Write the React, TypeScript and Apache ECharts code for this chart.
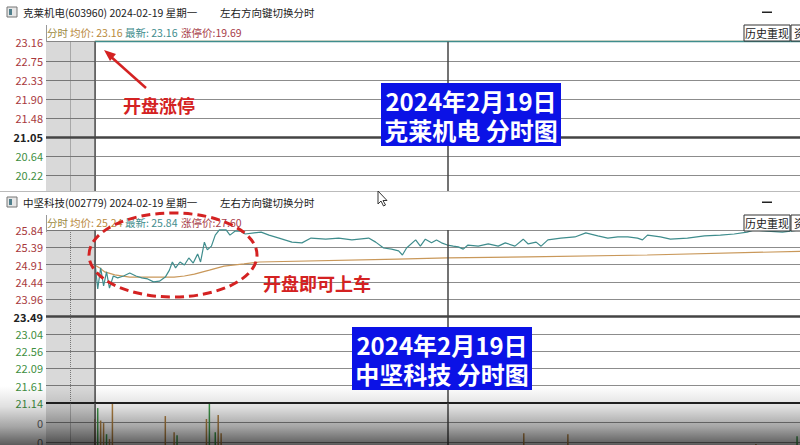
import React, { useEffect, useRef } from "react";
import * as echarts from "echarts";

const FONT = '"Noto Sans CJK SC", "Noto Sans", sans-serif';

// 克莱机电 (603960)
const topPrevClose = 21.05;
const topTickLabels = ["19.80", "20.22", "20.64", "21.05", "21.48", "21.90", "22.33", "22.75", "23.16"];
const topMinutes = [0, 240];
const topPrices = [23.16, 23.16];
const topAvg = [23.16, 23.16];

// 中坚科技 (002779)
const btmPrevClose = 23.49;
const btmTickLabels = ["21.14", "21.61", "22.09", "22.56", "23.04", "23.49", "23.96", "24.44", "24.91", "25.39", "25.84"];
const priceMinutes = [
  0, 1, 2, 3, 4, 5, 6.3, 7.8, 9.8, 11.9,
  14, 16, 18, 20, 22, 24, 25.4, 26.4, 27.5, 29,
  30.5, 32, 33.5, 35, 36, 37.3, 38.3, 39.7, 41, 42.4,
  44.7, 46, 47.8, 49.5, 51.2, 54.2, 56.6, 59.3, 62.7, 67.1,
  70.5, 73.6, 78.6, 83, 87.5, 93.2, 95.6, 98.3, 101, 103.4,
  104.7, 106.1, 109.2, 110.8, 112.5, 114.6, 116.3, 118, 120, 122,
  123.7, 125.4, 127, 130.5, 133.9, 137.3, 139.7, 143, 145.8, 147.5,
  150.2, 151.9, 154.2, 158.6, 163.4, 167.1, 171.2, 174.6, 178, 181.4,
  184.7, 186.4, 188.1, 192.5, 195.9, 201.7, 207.5, 212.9, 217.6, 222,
  224.4, 228.8, 234, 240,
];
const priceValues = [
  25.02, 24.24, 24.81, 24.32, 24.7, 24.26, 24.59, 24.54, 24.59, 24.67,
  24.59, 24.54, 24.51, 24.43, 24.45, 24.56, 24.75, 24.97, 24.81, 24.97,
  24.89, 25.08, 24.94, 25.19, 24.97, 25.51, 25.3, 25.4, 25.7, 25.84,
  25.84, 25.7, 25.81, 25.81, 25.73, 25.76, 25.78, 25.7, 25.62, 25.51,
  25.49, 25.62, 25.59, 25.62, 25.57, 25.62, 25.51, 25.35, 25.32, 25.27,
  25.16, 25.35, 25.57, 25.4, 25.59, 25.49, 25.57, 25.49, 25.43, 25.4,
  25.38, 25.32, 25.43, 25.4, 25.46, 25.4, 25.49, 25.4, 25.59, 25.46,
  25.51, 25.4, 25.57, 25.62, 25.65, 25.76, 25.68, 25.62, 25.65, 25.65,
  25.62, 25.57, 25.7, 25.65, 25.59, 25.62, 25.68, 25.7, 25.73, 25.78,
  25.84, 25.81, 25.78, 25.84,
];
const avgMinutes = [0, 1.7, 3.4, 6.8, 11.9, 27, 30.5, 33.9, 39, 44, 50.8, 56, 103, 120, 147.5, 188, 240];
const avgValues = [24.89, 24.81, 24.7, 24.62, 24.56, 24.56, 24.59, 24.64, 24.75, 24.86, 24.92, 24.97, 25.05, 25.08, 25.11, 25.16, 25.26];

const volMinutes = [0, 1, 2, 3, 4, 5, 6, 9, 12, 24, 27, 28, 38, 39, 41, 42, 43, 146, 161, 225, 239];
const volValues = [2180, 2740, 2100, 1970, 1400, 1150, 3000, 600, 500, 2330, 1500, 1350, 2180, 3000, 1500, 2380, 1450, 1450, 1400, 900, 1300];
const volUp = [1, 0, 1, 1, 0, 1, 1, 1, 0, 1, 1, 0, 1, 0, 0, 1, 1, 1, 1, 1, 0];
const volTickLabels = ["", "0", "0", ""];

const TEAL = "#3f8d8d";
const AVG = "#c9985a";
const UP = "#a8383c";
const DOWN = "#3f8f3f";
const GRID = "#8c8c8c";
const RED = "#d42222";
const BLUE = "#0b12e6";
const VOL_UP = "#b48444";
const VOL_DOWN = "#3f9a4a";

const X_MIN = -16.6;
const X_MAX = 240;

const pct = (p: number, prev: number) => (p / prev - 1) * 100;

const labelColor = (v: any) => {
  const n = Number(v);
  if (n > 0.001) return UP;
  if (n < -0.001) return DOWN;
  return "#222";
};

const sessionMarks = (extra: any[] = []) => ({
  markArea: {
    silent: true,
    itemStyle: { color: "rgba(0,0,0,0.15)" },
    data: [[{ xAxis: X_MIN }, { xAxis: 0 }]],
  },
  markLine: {
    silent: true,
    symbol: ["none", "none"],
    label: { show: false },
    data: [
      { xAxis: -8.5, lineStyle: { color: "#777", width: 1, type: "dotted" } },
      { xAxis: 0, lineStyle: { color: "#555", width: 1.5, type: "solid" } },
      { xAxis: 120, lineStyle: { color: "#444", width: 1.5, type: "solid" } },
      ...extra,
    ],
  },
});

const priceAxis = (gridIndex: number, min: number, labels: string[]) => ({
  gridIndex,
  type: "value",
  min,
  max: 10,
  interval: 2,
  axisLine: { show: true, lineStyle: { color: "#999", width: 1 } },
  axisTick: { show: false },
  splitLine: { show: true, lineStyle: { color: GRID, width: 1.2 } },
  axisLabel: {
    margin: 3,
    fontSize: 11,
    fontFamily: FONT,
    formatter: (v: number) => {
      const s = labels[Math.round((v - min) / 2)] ?? "";
      // previous close is drawn bold
      return Math.abs(v) < 0.001 ? `{b|${s}}` : s;
    },
    color: labelColor,
    rich: { b: { fontWeight: "bold", color: "#222", fontSize: 11, fontFamily: FONT } },
  },
});

const panelHeader = (top: number, title: string, avg: string, last: string, limit: string) => {
  const txt = (text: string, x: number, y: number, fill: string, size = 10.5, align = "left") => ({
    type: "text",
    z: 100,
    style: { text, x, y, fill, font: `${size}px ${FONT}`, textAlign: align, textVerticalAlign: "middle" },
  });
  return [
    { type: "rect", z: 100, shape: { x: 7, y: top + 7, width: 10, height: 10 }, style: { fill: "#e6e6e6", stroke: "#777", lineWidth: 1 } },
    { type: "rect", z: 100, shape: { x: 9, y: top + 9, width: 3, height: 6 }, style: { fill: "#4f7f8c" } },
    txt(title, 23, top + 12, "#222"),
    txt("左右方向键切换分时", 220, top + 12, "#222"),
    { type: "rect", z: 100, shape: { x: 762, y: top + 11.5, width: 10, height: 1.5 }, style: { fill: "#222" } },
    txt("分时", 47, top + 32, "#9c8a3e"),
    txt("均价: " + avg, 70, top + 32, "#b98a3c"),
    txt("最新: " + last, 125, top + 32, TEAL),
    txt("涨停价:" + limit, 181, top + 32, "#a8404a"),
    { type: "rect", z: 100, shape: { x: 744, y: top + 25, width: 46, height: 16 }, style: { fill: "#fff", stroke: "#333", lineWidth: 1 } },
    txt("历史重现", 767, top + 33, "#222", 11, "center"),
    { type: "rect", z: 100, shape: { x: 791, y: top + 25, width: 20, height: 16 }, style: { fill: "#fff", stroke: "#333", lineWidth: 1 } },
    txt("资", 794, top + 33, "#222", 11),
    { type: "line", z: 100, shape: { x1: 46.5, y1: top + 25, x2: 46.5, y2: top + 42 }, style: { stroke: "#999", lineWidth: 1 } },
  ];
};

const blueBox = (x: number, y: number, line1: string, line2: string) => [
  { type: "rect", z: 110, shape: { x, y, width: 180, height: 63 }, style: { fill: BLUE } },
  {
    type: "text",
    z: 111,
    style: {
      text: line1 + "\n" + line2,
      x: x + 90,
      y: y + 31.5,
      fill: "#fff",
      font: `bold 24px ${FONT}`,
      lineHeight: 29,
      textAlign: "center",
      textVerticalAlign: "middle",
    },
  },
];

const buildOption = () => {
  const topLine = topMinutes.map((m, i) => [m, pct(topPrices[i], topPrevClose)]);
  const topAvgLine = topMinutes.map((m, i) => [m, pct(topAvg[i], topPrevClose)]);
  const btmLine = priceMinutes.map((m, i) => [m, pct(priceValues[i], btmPrevClose)]);
  const btmAvgLine = avgMinutes.map((m, i) => [m, pct(avgValues[i], btmPrevClose)]);
  const volData = volMinutes.map((m, i) => ({
    value: [m, volValues[i]],
    itemStyle: { color: volUp[i] ? VOL_UP : VOL_DOWN },
  }));

  const graphic: any[] = [
    // the lower window hides the bottom of the upper one
    { type: "rect", z: 50, shape: { x: 0, y: 191.5, width: 800, height: 10 }, style: { fill: "#fff" } },
    { type: "line", z: 51, shape: { x1: 0, y1: 191.5, x2: 800, y2: 191.5 }, style: { stroke: "#bbb", lineWidth: 1 } },
    ...panelHeader(0, "克莱机电(603960) 2024-02-19 星期一", "23.16", "23.16", "19.69"),
    ...panelHeader(190, "中坚科技(002779) 2024-02-19 星期一", "25.24", "25.84", "27.60"),
    // bottom vignette
    {
      type: "rect",
      z: 90,
      silent: true,
      shape: { x: 0, y: 386, width: 800, height: 59 },
      style: {
        fill: new echarts.graphic.LinearGradient(0, 0, 0, 1, [
          { offset: 0, color: "rgba(0,0,0,0)" },
          { offset: 0.35, color: "rgba(0,0,0,0.12)" },
          { offset: 0.7, color: "rgba(0,0,0,0.36)" },
          { offset: 1, color: "rgba(0,0,0,0.64)" },
        ]),
      },
    },
    // annotations
    { type: "line", z: 120, shape: { x1: 146, y1: 88, x2: 109, y2: 55 }, style: { stroke: RED, lineWidth: 2.5 } },
    { type: "polygon", z: 120, shape: { points: [[104, 50], [116, 54], [110, 61]] }, style: { fill: RED } },
    { type: "text", z: 120, style: { text: "开盘涨停", x: 123, y: 105, fill: RED, font: `bold 18px ${FONT}`, textVerticalAlign: "middle" } },
    { type: "ellipse", z: 120, shape: { cx: 173, cy: 255, rx: 84, ry: 42 }, style: { fill: "none", stroke: RED, lineWidth: 3, lineDash: [9, 5] } },
    { type: "text", z: 120, style: { text: "开盘即可上车", x: 263, y: 283, fill: RED, font: `bold 18px ${FONT}`, textVerticalAlign: "middle" } },
    ...blueBox(381, 83, "2024年2月19日", "克莱机电 分时图"),
    ...blueBox(352, 327, "2024年2月19日", "中坚科技 分时图"),
    // mouse pointer
    {
      type: "polygon",
      z: 130,
      shape: { points: [[378, 191], [378, 204], [381, 201], [383.5, 206], [385.5, 205], [383, 200.5], [387, 200.5]] },
      style: { fill: "#fff", stroke: "#333", lineWidth: 1 },
    },
  ];

  return {
    animation: false,
    backgroundColor: "#fff",
    grid: [
      { left: 46, top: 41.7, width: 757, height: 152.8 },
      { left: 46, top: 230, width: 757, height: 173 },
      { left: 46, top: 403, width: 757, height: 58.5 },
    ],
    xAxis: [0, 1, 2].map((i) => ({ gridIndex: i, type: "value", min: X_MIN, max: X_MAX, show: false })),
    yAxis: [
      priceAxis(0, -6, topTickLabels),
      priceAxis(1, -10, btmTickLabels),
      {
        gridIndex: 2,
        type: "value",
        min: 0,
        max: 3000,
        interval: 1000,
        axisLine: { show: true, lineStyle: { color: "#999", width: 1 } },
        axisTick: { show: false },
        splitLine: { show: true, lineStyle: { color: GRID, width: 1.2 } },
        axisLabel: {
          margin: 3,
          fontSize: 11,
          fontFamily: FONT,
          color: "#666",
          formatter: (v: number) => volTickLabels[Math.round(v / 1000)] ?? "",
        },
      },
    ],
    series: [
      {
        type: "line",
        xAxisIndex: 0,
        yAxisIndex: 0,
        data: topAvgLine,
        symbol: "none",
        clip: false,
        lineStyle: { color: AVG, width: 1.2 },
        ...sessionMarks([{ yAxis: 0, lineStyle: { color: "#444", width: 2.5, type: "solid" } }]),
      },
      {
        type: "line",
        xAxisIndex: 0,
        yAxisIndex: 0,
        data: topLine,
        symbol: "none",
        clip: false,
        lineStyle: { color: TEAL, width: 1.5 },
      },
      {
        type: "line",
        xAxisIndex: 1,
        yAxisIndex: 1,
        data: btmAvgLine,
        symbol: "none",
        clip: false,
        lineStyle: { color: AVG, width: 1.2 },
        ...sessionMarks([
          { yAxis: 0, lineStyle: { color: "#444", width: 2.5, type: "solid" } },
          { yAxis: -10, lineStyle: { color: "#222", width: 2, type: "solid" } },
        ]),
      },
      {
        type: "line",
        xAxisIndex: 1,
        yAxisIndex: 1,
        data: btmLine,
        symbol: "none",
        clip: false,
        lineStyle: { color: TEAL, width: 1.2 },
      },
      {
        type: "bar",
        xAxisIndex: 2,
        yAxisIndex: 2,
        data: volData,
        barWidth: 1.5,
        ...sessionMarks(),
      },
    ],
    graphic,
  };
};

const App: React.FC = () => {
  const chartRef = useRef<HTMLDivElement>(null);

  useEffect(() => {
    if (!chartRef.current) return;
    const chart = echarts.init(chartRef.current, null, { renderer: "svg" });
    chart.setOption(buildOption() as any);
    return () => {
      chart.dispose();
    };
  }, []);

  // taller than the window: the volume pane runs past the bottom edge, as in the screenshot
  return (
    <div
      ref={chartRef}
      style={{ position: "fixed", left: 0, top: 0, width: 800, height: 470, background: "#fff" }}
    />
  );
};

export default App;
